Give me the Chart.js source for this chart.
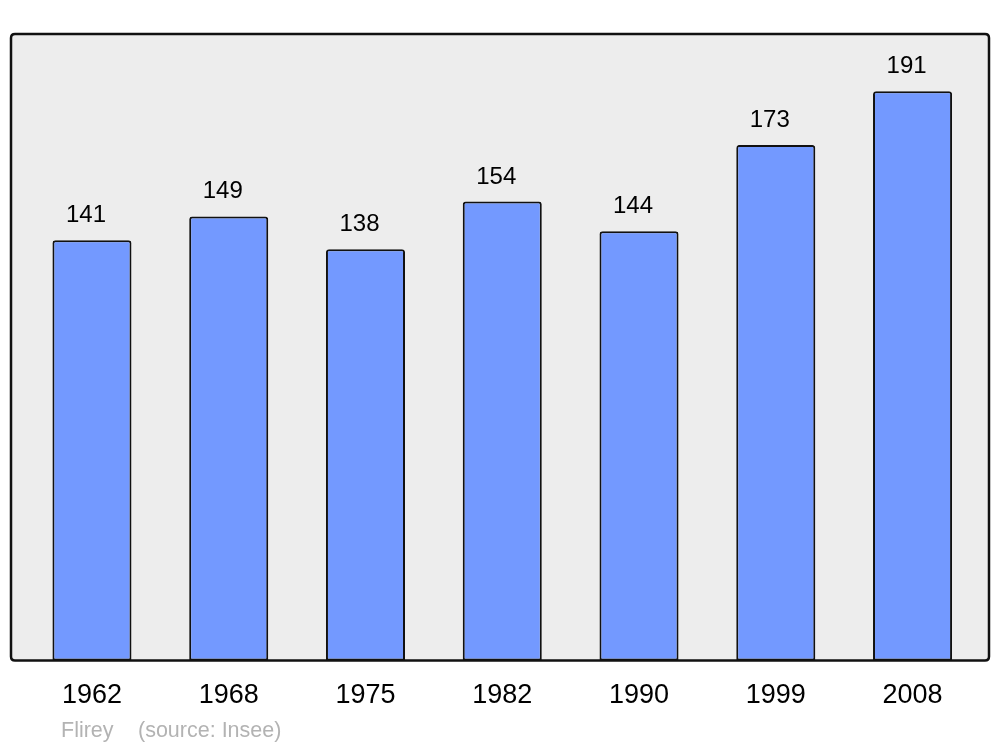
<!DOCTYPE html>
<html>
<head>
<meta charset="utf-8">
<script src="https://cdn.jsdelivr.net/npm/chart.js@4"></script>
<style>
html,body{margin:0;padding:0;background:#fff;}
#wrap{width:1000px;height:747px;position:relative;}
</style>
</head>
<body>
<div id="wrap"><canvas id="c" width="1000" height="747"></canvas></div>
<script>
const years = ["1962","1968","1975","1982","1990","1999","2008"];
const population = [141,149,138,154,144,173,191];
const footerPlace = "Flirey";
const footerSource = "(source: Insee)";

const frame = {
  id:'frame',
  beforeDatasetsDraw(chart){
    const {ctx, chartArea:a} = chart;
    ctx.save();
    ctx.fillStyle = '#ededed';
    roundRect(ctx, a.left, a.top, a.right-a.left, a.bottom-a.top, 4);
    ctx.fill();
    ctx.restore();
  },
  afterDatasetsDraw(chart){
    const {ctx, chartArea:a} = chart;
    ctx.save();
    ctx.lineWidth = 2.5;
    ctx.strokeStyle = '#111';
    roundRect(ctx, a.left, a.top, a.right-a.left, a.bottom-a.top, 4);
    ctx.stroke();
    // value labels
    const meta = chart.getDatasetMeta(0);
    ctx.fillStyle = '#000';
    ctx.font = '24px "Liberation Sans", Arial, sans-serif';
    ctx.textAlign = 'center';
    ctx.textBaseline = 'alphabetic';
    meta.data.forEach((bar,i)=>{
      ctx.fillText(String(population[i]), bar.x - 6, bar.y - 18);
    });
    // footer
    ctx.fillStyle = '#b3b3b3';
    ctx.font = '21.5px "Liberation Sans", Arial, sans-serif';
    ctx.textAlign = 'left';
    ctx.fillText(footerPlace, 61, 737);
    ctx.fillText(footerSource, 138, 737);
    ctx.restore();
  }
};
function roundRect(ctx,x,y,w,h,r){
  ctx.beginPath();
  ctx.moveTo(x+r,y);
  ctx.lineTo(x+w-r,y);
  ctx.quadraticCurveTo(x+w,y,x+w,y+r);
  ctx.lineTo(x+w,y+h-r);
  ctx.quadraticCurveTo(x+w,y+h,x+w-r,y+h);
  ctx.lineTo(x+r,y+h);
  ctx.quadraticCurveTo(x,y+h,x,y+h-r);
  ctx.lineTo(x,y+r);
  ctx.quadraticCurveTo(x,y,x+r,y);
  ctx.closePath();
}

new Chart(document.getElementById('c'), {
  type:'bar',
  data:{
    datasets:[{
      data: population.map((v,i)=>({x:i, y:v})),
      backgroundColor:'#7399ff',
      borderColor:'#111',
      borderWidth:2,
      borderRadius:{topLeft:3, topRight:3, bottomLeft:0, bottomRight:0},
      borderSkipped:false,
      barPercentage:0.578,
      categoryPercentage:1
    }]
  },
  options:{
    responsive:false,
    animation:false,
    devicePixelRatio:1,
    layout:{padding:{left:11,right:11,top:34,bottom:16}},
    plugins:{legend:{display:false}, tooltip:{enabled:false}},
    scales:{
      x:{
        type:'linear',
        offset:false,
        min:-0.592, max:6.559,
        grid:{display:false, drawTicks:false, offset:false},
        border:{display:false},
        afterBuildTicks(scale){ scale.ticks = years.map((y,i)=>({value:i})); },
        ticks:{
          autoSkip:false, maxRotation:0,
          padding:19,
          color:'#000',
          font:{family:'"Liberation Sans", Arial, sans-serif', size:27},
          callback:(v)=>years[v]
        }
      },
      y:{
        display:false,
        min:0, max:210.2
      }
    }
  },
  plugins:[frame]
});
</script>
</body>
</html>
